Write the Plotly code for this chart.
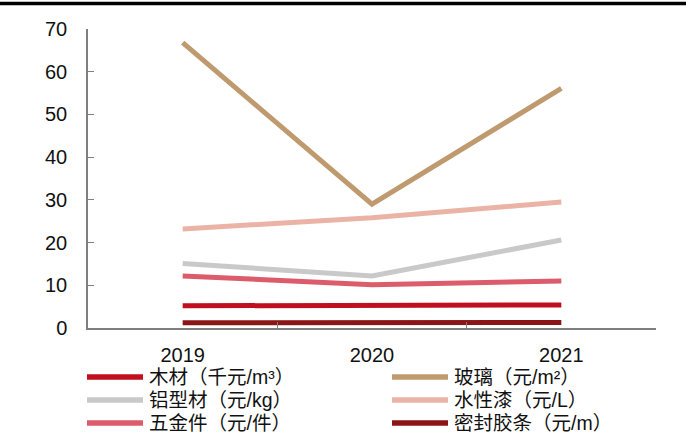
import plotly.graph_objects as go

years = ["2019", "2020", "2021"]
names = ["木材（千元/m³）", "玻璃（元/m²）", "铝型材（元/kg）", "水性漆（元/L）", "五金件（元/件）", "密封胶条（元/m）"]
wood = [5.2, 5.3, 5.4]
glass = [66.8, 29.0, 56.1]
alum = [15.1, 12.2, 20.6]
paint = [23.2, 25.8, 29.5]
hardware = [12.2, 10.1, 11.0]
seal = [1.2, 1.2, 1.3]
colors = ["#C00F1E", "#BF9A6F", "#C9C9C9", "#EBB3A6", "#DC5C6B", "#8B1416"]
series = [wood, glass, alum, paint, hardware, seal]
yticks = [0, 10, 20, 30, 40, 50, 60, 70]

fig = go.Figure()
draw_order = [3, 1, 2, 4, 0, 5]
for i in draw_order:
    fig.add_trace(go.Scatter(x=years, y=series[i], mode="lines", name=names[i],
                             line=dict(color=colors[i], width=5), showlegend=False))

font_lat = "Liberation Sans, Arial, sans-serif"
font_cjk = "Liberation Sans, Noto Sans CJK SC, sans-serif"

fig.update_layout(
    width=686, height=444,
    margin=dict(l=88, r=30, t=29, b=116),
    paper_bgcolor="white", plot_bgcolor="white",
    xaxis=dict(type="category", range=[-0.5, 2.5], showline=True, linecolor="#7f7f7f", linewidth=1.5,
               ticks="inside", tickson="boundaries", ticklen=6, tickcolor="#7f7f7f", tickwidth=1.3,
               showgrid=False, zeroline=False, tickfont=dict(family=font_lat, size=20, color="#111"),
               ticklabelstandoff=8),
    yaxis=dict(range=[0, 70], tickvals=yticks, showline=True, linecolor="#7f7f7f", linewidth=1.5,
               ticks="inside", ticklen=6, tickcolor="#7f7f7f", tickwidth=1.3,
               showgrid=False, zeroline=False, tickfont=dict(family=font_lat, size=20, color="#111"),
               ticklabelstandoff=15),
)

# top rule
fig.add_shape(type="line", xref="paper", yref="paper", x0=-88/568, x1=(686-88)/568,
              y0=1 + 25.5/299, y1=1 + 25.5/299, line=dict(color="black", width=3.5))

# manual legend (two columns, three rows)
col_x = [87, 392]
row_y = [377, 400, 423]
for k in range(6):
    r, c = k // 2, k % 2
    x0 = col_x[c]
    yy = row_y[r]
    px0 = (x0 - 88) / 568
    px1 = (x0 + 56 - 88) / 568
    py = (328 - yy) / 299
    fig.add_shape(type="line", xref="paper", yref="paper", x0=px0, x1=px1, y0=py, y1=py,
                  line=dict(color=colors[k], width=5.5))
    fig.add_annotation(x=(x0 + 60 - 88) / 568, y=py, xref="paper", yref="paper", text=names[k],
                       showarrow=False, xanchor="left", yanchor="middle",
                       font=dict(family=font_cjk, size=19.5, color="#111"))

fig.write_html("out.html")
